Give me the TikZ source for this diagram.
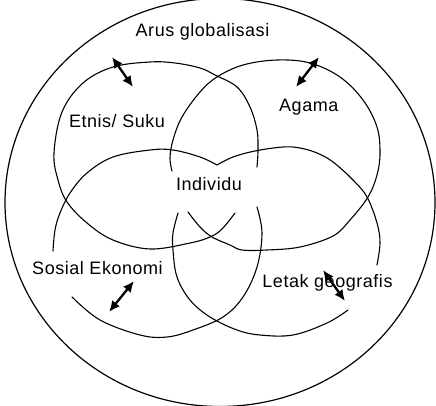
\documentclass[tikz,border=0pt]{standalone}
\usepackage{fontspec}
\setmainfont{Liberation Sans}
\newfontfamily\lblfont[LetterSpace=3]{Liberation Sans}
\usetikzlibrary{arrows.meta}
\begin{document}
\begin{tikzpicture}[x=1pt,y=-1pt,
  curve/.style={line width=1.1pt, black, line cap=round},
  outer/.style={line width=1.2pt, black},
  dblarrow/.style={line width=2.3pt, {Latex[length=11pt,width=10pt]}-{Latex[length=11pt,width=10pt]}},
  lbl/.style={font=\lblfont\fontsize{18}{20}\selectfont, anchor=base, inner sep=0pt}]
\useasboundingbox (0,0) rectangle (436,406);
% outer circle
\draw[outer] (220,202.5) ellipse [x radius=215pt, y radius=204pt];
% Etnis / Suku loop
\draw[curve] plot[smooth, tension=0.6] coordinates {(257,167) (258,150) (257,130) (250,107) (237,87) (215,75) (200,68) (175,63) (150,62) (113,67) (83,83) (62,112) (54,153) (58,180) (67,202) (87,223) (113,240) (150,249) (190,243) (210,237) (222,229) (235,213)};
% Agama loop
\draw[curve] plot[smooth, tension=0.6] coordinates {(172,171) (170,158) (173,140) (182,117) (200,92) (217,77) (243,65) (277,60) (310,63) (340,77) (363,100) (377,127) (380,153) (377,175) (368,197) (350,220) (333,236) (300,247) (267,250) (242,250) (230,245) (212,237) (200,227) (188,212)};
% Sosial Ekonomi loop
\draw[curve] plot[smooth, tension=0.6] coordinates {(217,165) (200,157) (173,150) (150,150) (113,157) (87,173) (70,193) (60,213) (55,230) (53,251)};
\draw[curve] plot[smooth, tension=0.6] coordinates {(257,207) (262,233) (257,267) (243,297) (223,317) (193,330) (167,337) (140,335) (100,320) (72,297)};
% Letak geografis loop
\draw[curve] plot[smooth, tension=0.6] coordinates {(217,165) (233,157) (255,151) (283,147) (300,148) (317,153) (333,162) (353,180) (367,197) (377,223) (380,243) (377,265)};
\draw[curve] plot[smooth, tension=0.6] coordinates {(178,213) (173,233) (173,250) (177,277) (190,300) (210,317) (237,330) (260,335) (293,335) (327,323) (348,310)};
% labels
\node[lbl] (arus) at (202.5,37) {Arus globalisasi};
\node[lbl] (etnis) at (117,127.3) {Etnis/ Suku};
\node[lbl] (agama) at (308.8,111.7) {Agama};
\node[lbl] (indiv) at (209,190) {Individu};
\node[lbl] (sosial) at (97.5,274) {Sosial Ekonomi};
\node[lbl] (letak) at (327.5,287.3) {Letak geografis};
% arrows
\coordinate (e1) at (112,57); \coordinate (e2) at (133,87);
\coordinate (g1) at (319,57); \coordinate (g2) at (296,87);
\coordinate (s1) at (134,281); \coordinate (s2) at (109,312);
\coordinate (l1) at (323,270); \coordinate (l2) at (345,301);
\draw[dblarrow] (e1) -- (e2);
\draw[dblarrow] (g1) -- (g2);
\draw[dblarrow] (s1) -- (s2);
\draw[dblarrow] (l1) -- (l2);
\end{tikzpicture}
\end{document}
